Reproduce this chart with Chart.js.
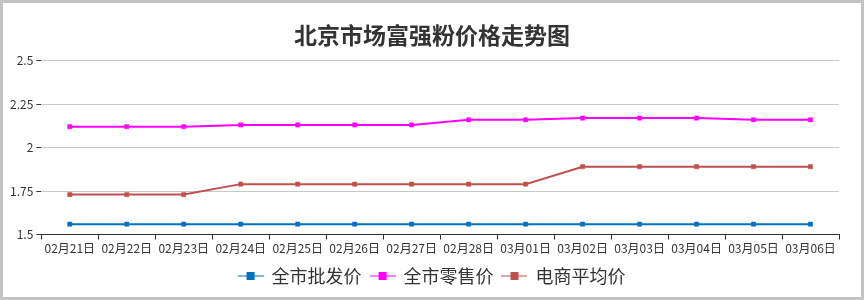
<!DOCTYPE html>
<html>
<head>
<meta charset="utf-8">
<script src="https://cdn.jsdelivr.net/npm/chart.js@4"></script>
<style>
  body { margin: 0; background: #fff; }
  #wrap { width: 864px; height: 300px; box-sizing: border-box; border: 3px solid #c3c3c3; background: #fff; }
</style>
</head>
<body>
<div id="wrap"><canvas id="myChart" width="858" height="294"></canvas></div>
<script>
const days = ['02月21日', '02月22日', '02月23日', '02月24日', '02月25日', '02月26日', '02月27日',
    '02月28日', '03月01日', '03月02日', '03月03日', '03月04日', '03月05日', '03月06日'];
const wholesale = [1.56, 1.56, 1.56, 1.56, 1.56, 1.56, 1.56, 1.56, 1.56, 1.56, 1.56, 1.56, 1.56, 1.56];
const retail = [2.12, 2.12, 2.12, 2.13, 2.13, 2.13, 2.13, 2.16, 2.16, 2.17, 2.17, 2.17, 2.16, 2.16];
const online = [1.73, 1.73, 1.73, 1.79, 1.79, 1.79, 1.79, 1.79, 1.79, 1.89, 1.89, 1.89, 1.89, 1.89];
const seriesNames = ['全市批发价', '全市零售价', '电商平均价'];
const colors = ['#0070c0', '#ff00ff', '#c0504d'];
const lightColors = ['rgba(0,112,192,0.5)', 'rgba(255,0,255,0.5)', 'rgba(192,80,77,0.5)'];

const font = "'Noto Sans CJK SC', 'Noto Sans', sans-serif";

// legend icon: short line with a square in the middle
function legendIcon(i) {
    const c = document.createElement('canvas');
    c.width = 26; c.height = 10;
    const g = c.getContext('2d');
    g.strokeStyle = lightColors[i];
    g.lineWidth = 2;
    g.beginPath(); g.moveTo(0, 5); g.lineTo(26, 5); g.stroke();
    g.fillStyle = colors[i];
    g.fillRect(9, 1, 8, 8);
    return c;
}

function makeSet(i, data) {
    return {
        label: seriesNames[i],
        data: data,
        borderColor: colors[i],
        backgroundColor: colors[i],
        pointBackgroundColor: colors[i],
        pointBorderColor: lightColors[i],
        pointBorderWidth: 1,
        pointStyle: 'rect',
        pointRadius: 3,
        borderWidth: 2,
        tension: 0
    };
}

const ctx = document.getElementById('myChart').getContext('2d');
const myChart = new Chart(ctx, {
    type: 'line',
    data: {
        labels: days,
        datasets: [makeSet(0, wholesale), makeSet(1, retail), makeSet(2, online)]
    },
    options: {
        responsive: false,
        animation: false,
        layout: { padding: { left: 4, right: 4, top: 4, bottom: 2 } },
        plugins: {
            title: {
                display: true,
                text: '北京市场富强粉价格走势图',
                color: '#333',
                font: { family: font, size: 23, weight: 'bold' },
                padding: { top: 14, bottom: 12 }
            },
            legend: {
                position: 'bottom',
                labels: {
                    usePointStyle: true,
                    pointStyleWidth: 24,
                    color: '#333',
                    font: { family: font, size: 18 },
                    padding: 9,
                    generateLabels: chart => chart.data.datasets.map((ds, i) => ({
                        text: ds.label,
                        pointStyle: legendIcon(i),
                        fillStyle: colors[i],
                        strokeStyle: colors[i],
                        lineWidth: 0,
                        fontColor: '#333',
                        datasetIndex: i
                    }))
                }
            },
            tooltip: { enabled: false }
        },
        scales: {
            x: {
                offset: true,
                grid: { display: true, drawOnChartArea: false, offset: true, tickColor: '#333', tickLength: 5 },
                border: { color: '#333' },
                ticks: { color: '#333', font: { family: font, size: 12 }, maxRotation: 0, autoSkip: false, padding: 2 }
            },
            y: {
                min: 1.5,
                max: 2.5,
                grid: { color: '#c8c8c8', tickColor: '#333', tickLength: 5 },
                border: { display: false },
                ticks: {
                    stepSize: 0.25,
                    color: '#333',
                    font: { family: font, size: 12 },
                    padding: 3,
                    callback: v => String(+v.toFixed(2))
                }
            },
            // empty right-hand axis, only reserves the margin right of the plot
            yRight: {
                position: 'right',
                grid: { display: false },
                border: { display: false },
                ticks: { display: false },
                afterFit: s => { s.width = 18; }
            }
        }
    }
});
</script>
</body>
</html>
